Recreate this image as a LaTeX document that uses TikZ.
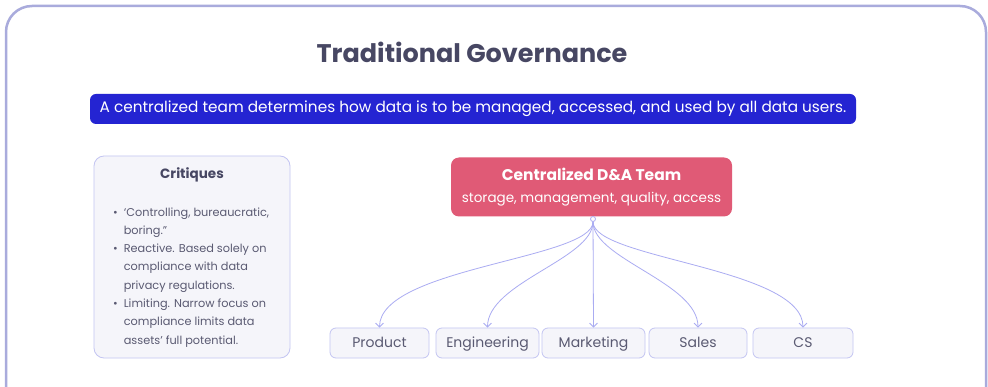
\documentclass[tikz,border=0pt]{standalone}
\usepackage{fontspec}
\setmainfont{Poppins}
\usetikzlibrary{positioning,arrows.meta}
\definecolor{frameline}{HTML}{A9ABDC}
\definecolor{titlegray}{HTML}{474763}
\definecolor{textgray}{HTML}{5A5A72}
\definecolor{pillblue}{HTML}{2424D2}
\definecolor{teamred}{HTML}{E05A76}
\definecolor{boxfill}{HTML}{F5F5FA}
\definecolor{boxline}{HTML}{C3C5F2}
\definecolor{linkline}{HTML}{AAACF2}

\begin{document}
\begin{tikzpicture}[x=1pt,y=-1pt,
    pill/.style={fill=pillblue,rounded corners=6pt,text=white,minimum width=766pt,
      minimum height=30pt,inner sep=0pt,font=\fontsize{15.3}{17}\selectfont},
    critbox/.style={fill=boxfill,draw=boxline,line width=0.8pt,rounded corners=10pt,
      minimum width=196pt,minimum height=202pt},
    team/.style={fill=teamred,rounded corners=8pt,text=white,minimum width=281pt,
      minimum height=59pt,inner sep=0pt,align=center},
    dept/.style={fill=boxfill,draw=boxline,line width=0.8pt,rounded corners=6pt,
      minimum width=99pt,minimum height=30pt,inner sep=0pt,text=textgray,
      text height=11pt,text depth=1pt,font=\fontsize{14}{16}\selectfont},
    link/.style={linkline,line width=0.8pt,-{Straight Barb[length=4pt,width=8pt]}}]
  \useasboundingbox (0,0) rectangle (988,387);
  \clip (0,0) rectangle (988,387);
  \fill[white] (0,0) rectangle (988,387);
  \draw[frameline,line width=2.5pt,rounded corners=26pt] (6,6) rectangle (986,430);

  \node[text=titlegray,font=\fontsize{25.5}{30}\selectfont\bfseries] (title) at (472,52)
    {Traditional Governance};
  \node[pill] (lead) at (473,109)
    {A centralized team determines how data is to be managed, accessed, and used by all data users.};

  % critiques panel
  \node[critbox] (crit) at (192,257) {};
  \node[text=titlegray,font=\fontsize{13.5}{16}\selectfont\bfseries] (crithead) at (192,175) {Critiques};
  \node[anchor=north west,inner sep=0pt,text=textgray] (critlist) at (113,203)
    {\fontsize{11.3}{18.3}\selectfont
     \begin{tabular}{@{}l@{\hspace{6pt}}l@{}}
       \textbullet & ‘Controlling, bureaucratic,\\
                   & boring.”\\
       \textbullet & Reactive. Based solely on\\
                   & compliance with data\\
                   & privacy regulations.\\
       \textbullet & Limiting. Narrow focus on\\
                   & compliance limits data\\
                   & assets’ full potential.
     \end{tabular}};

  % team and departments
  \node[team] (team) at (591.5,187)
    {{\fontsize{15.5}{18}\selectfont\bfseries Centralized D\&A Team}\\[10pt]
     {\fontsize{13.5}{16}\selectfont storage, management, quality, access}};
  \node[circle,draw=linkline,fill=white,line width=0.8pt,inner sep=0pt,minimum size=5pt]
    (hub) at (593,219) {};
  \node[dept] (prod) at (379.5,343) {Product};
  \node[dept,minimum width=103pt] (eng) at (487.5,343) {Engineering};
  \node[dept,minimum width=103pt] (mkt) at (593.5,343) {Marketing};
  \node[dept,minimum width=98pt] (sales) at (698,343) {Sales};
  \node[dept,minimum width=100pt] (cs) at (803,343) {CS};

  \draw[link] (hub) .. controls +(0,40) and +(0,-60) .. (prod.north);
  \draw[link] (hub) .. controls +(0,40) and +(0,-45) .. (eng.north);
  \draw[link] (hub) -- (mkt.north);
  \draw[link] (hub) .. controls +(0,40) and +(0,-45) .. (sales.north);
  \draw[link] (hub) .. controls +(0,40) and +(0,-60) .. (cs.north);
\end{tikzpicture}
\end{document}
